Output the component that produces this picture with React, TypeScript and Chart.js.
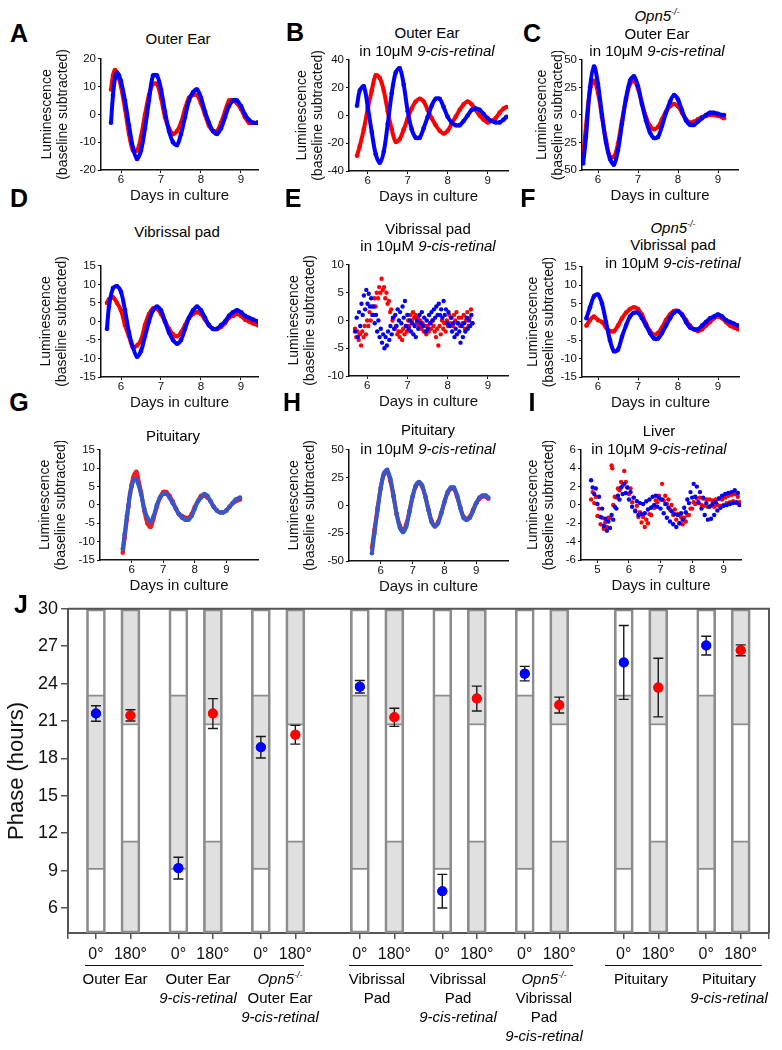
import React, { useEffect, useRef } from 'react';
import { Chart, registerables } from 'chart.js';

Chart.register(...registerables);
const FONT = "'Liberation Sans', Arial, Helvetica, sans-serif";
Chart.defaults.font.family = FONT;
Chart.defaults.color = '#111';

// ---------------- Panel A: Outer Ear ----------------
const aDays = [5.75,5.8,5.85,5.9,5.95,6.0,6.1,6.2,6.3,6.4,6.5,6.6,6.7,6.8,6.9,7.0,7.1,7.2,7.3,7.4,7.5,7.6,7.7,7.8,7.9,8.0,8.1,8.2,8.3,8.4,8.5,8.6,8.7,8.8,8.9,9.0,9.1,9.2,9.3,9.4,9.45];
const aBlue = [-3,7,13,15,14,12,5,-4,-12,-16,-13,-5,5,14,14,9,1,-6,-10,-11,-7,-1,5,8,9,6,1,-3,-6,-7,-5,-1,3,5,5,3,0,-2,-3,-3,-3];
const aRed = [9,14,16,15,13,10,2,-7,-13,-13,-8,0,7,11,11,6,-1,-5,-7,-6,-3,2,6,7,7,4,0,-4,-6,-6,-3,1,5,5,4,2,-1,-3,-3,-3,-3];
const aYTicks = [-20,-10,0,10,20];

// ---------------- Panel B: Outer Ear in 9-cis-retinal ----------------
const bDays = [5.73,5.8,5.9,6.0,6.1,6.2,6.3,6.4,6.5,6.6,6.7,6.8,6.9,7.0,7.1,7.2,7.3,7.4,7.5,7.6,7.7,7.8,7.9,8.0,8.1,8.2,8.3,8.4,8.5,8.6,8.7,8.8,8.9,9.0,9.1,9.2,9.3,9.4,9.47];
const bBlue = [7,18,21,6,-12,-28,-34,-26,-6,16,31,34,22,3,-10,-16,-16,-9,-1,7,12,12,6,-1,-5,-7,-7,-4,0,4,5,4,1,-2,-4,-5,-5,-3,-1];
const bRed = [-29,-22,-10,5,18,29,27,18,3,-10,-19,-17,-10,-2,5,10,12,10,4,-2,-7,-11,-13,-11,-6,-1,4,8,10,8,4,0,-3,-5,-4,-2,2,5,6];
const bYTicks = [-40,-20,0,20,40];

// ---------------- Panel C: Opn5-/- Outer Ear in 9-cis-retinal ----------------
const cDays = [5.63,5.7,5.8,5.9,6.0,6.1,6.2,6.3,6.4,6.5,6.6,6.7,6.8,6.9,7.0,7.1,7.2,7.3,7.4,7.5,7.6,7.7,7.8,7.9,8.0,8.1,8.2,8.3,8.4,8.5,8.6,8.7,8.8,8.9,9.0,9.1,9.15];
const cBlue = [-44,-20,25,44,28,0,-25,-40,-45,-32,-8,15,31,35,26,10,-5,-16,-21,-20,-10,2,12,18,14,4,-5,-9,-9,-6,-3,0,2,2,1,0,0];
const cRed = [-38,-10,22,31,20,-2,-23,-38,-38,-26,-5,14,28,31,24,10,-2,-10,-13,-11,-4,3,8,10,8,2,-4,-7,-6,-4,-2,-1,0,0,-1,-2,-3];
const cYTicks = [-50,-25,0,25,50];

// ---------------- Panel D: Vibrissal pad ----------------
const dDays = [5.65,5.7,5.8,5.9,6.0,6.1,6.2,6.3,6.4,6.5,6.6,6.7,6.8,6.9,7.0,7.1,7.2,7.3,7.4,7.5,7.6,7.7,7.8,7.9,8.0,8.1,8.2,8.3,8.4,8.5,8.6,8.7,8.8,8.9,9.0,9.1,9.2,9.3,9.42];
const dBlue = [-2,4,9,9.5,8,3,-3,-7,-9.5,-8,-4,0,3,4,3,0,-3,-5,-6,-5,-2,1,3,4,3,1,-1,-2,-2,-1,0,1.5,2.5,3,2.5,1.5,1,0.5,0];
const dRed = [5,6,6.5,5,3,-1,-4,-7,-6.5,-5,-1,2,3.5,3.5,2,0,-2,-3.5,-4,-3,-1,1,2,2.5,2,0.5,-1,-2,-2,-1.5,-0.5,1,1.5,2,1.5,0.5,0,-0.5,-1];
const dYTicks = [-15,-10,-5,0,5,10,15];

// ---------------- Panel E: Vibrissal pad in 9-cis-retinal (day, value) ----------------
const eBlue = [[5.70,-2],[5.74,0.5],[5.77,-3],[5.80,1.5],[5.83,-1],[5.86,3],[5.89,1],[5.92,4.5],[5.95,2],[5.98,5.5],[6.01,3],[6.04,4.8],[6.07,2.5],[6.10,4],[6.13,1],[6.16,2.5],[6.19,-0.5],[6.22,1],[6.25,-2],[6.28,0],[6.31,-3],[6.34,-1.5],[6.37,-4],[6.40,-2.5],[6.43,-5],[6.46,-3],[6.49,-4.5],[6.52,-2],[6.55,-3.5],[6.58,-1],[6.61,-2.5],[6.64,0.5],[6.67,-1.5],[6.70,1],[6.73,-1],[6.76,2],[6.79,0],[6.82,1.5],[6.85,-0.5],[6.88,2.5],[6.91,0.5],[6.94,3.5],[6.97,-1],[7.00,1],[7.03,-1.5],[7.06,0],[7.09,-2],[7.12,-0.5],[7.15,-2.5],[7.18,-1],[7.21,-3],[7.24,0],[7.27,-1.5],[7.30,1],[7.33,-0.5],[7.36,1.5],[7.39,-1],[7.42,0.5],[7.45,-2],[7.48,0],[7.51,-1.5],[7.54,1],[7.57,-0.5],[7.60,1.5],[7.63,0],[7.66,2],[7.69,0.5],[7.72,2.5],[7.75,1],[7.78,3],[7.81,1],[7.84,2],[7.87,0.5],[7.90,3.5],[7.93,1],[7.96,2],[7.99,-0.5],[8.02,1.5],[8.05,-1],[8.08,0.5],[8.11,-2],[8.14,-0.5],[8.17,-3],[8.20,-1.5],[8.23,-2.5],[8.26,-0.5],[8.29,-2],[8.32,-4],[8.35,-1],[8.38,-3],[8.41,-0.5],[8.44,-2],[8.47,0.5],[8.50,-1.5],[8.53,0],[8.56,-1],[8.59,1],[8.62,-0.5]];
const eRed = [[5.70,-1.5],[5.73,-3],[5.76,-2],[5.79,-3.5],[5.82,-2.5],[5.85,-4.5],[5.88,-2],[5.91,-3],[5.94,-1],[5.97,-2.5],[6.00,0],[6.03,-1],[6.06,1.5],[6.09,0],[6.12,2.5],[6.15,1],[6.18,4],[6.21,2.5],[6.24,5],[6.27,4],[6.30,6],[6.33,5],[6.36,7.5],[6.39,5.5],[6.42,6],[6.45,4],[6.48,5],[6.51,3],[6.54,3.5],[6.57,1.5],[6.60,2],[6.63,0],[6.66,0.5],[6.69,-1.5],[6.72,-1],[6.75,-2.5],[6.78,-2],[6.81,-3],[6.84,-2],[6.87,-3.5],[6.90,-1.5],[6.93,-2.5],[6.96,-1],[6.99,-2],[7.02,0],[7.05,-1],[7.08,1],[7.11,0],[7.14,1.5],[7.17,0.5],[7.20,1],[7.23,-0.5],[7.26,0.5],[7.29,-1],[7.32,0],[7.35,-1.5],[7.38,-0.5],[7.41,-2],[7.44,-1],[7.47,-2.5],[7.50,-1],[7.53,-2],[7.56,-0.5],[7.59,-1.5],[7.62,0],[7.65,-1],[7.68,-2],[7.71,-3],[7.74,-1.5],[7.77,-4.5],[7.80,-1],[7.83,-2.5],[7.86,0],[7.89,-1.5],[7.92,-0.5],[7.95,-2],[7.98,0],[8.01,-1],[8.04,1],[8.07,-0.5],[8.10,0.5],[8.13,-1],[8.16,1],[8.19,0],[8.22,1.5],[8.25,-0.5],[8.28,0.5],[8.31,-1],[8.34,0.5],[8.37,-0.5],[8.40,1],[8.43,-1.5],[8.46,0],[8.49,1.5],[8.52,-1],[8.55,0.5],[8.58,2],[8.61,-0.5]];
const eYTicks = [-10,-5,0,5,10];

// ---------------- Panel F: Opn5-/- Vibrissal pad in 9-cis-retinal ----------------
const fDays = [5.71,5.8,5.9,6.0,6.1,6.2,6.3,6.4,6.5,6.6,6.7,6.8,6.9,7.0,7.1,7.2,7.3,7.4,7.5,7.6,7.7,7.8,7.9,8.0,8.1,8.2,8.3,8.4,8.5,8.6,8.7,8.8,8.9,9.0,9.1,9.2,9.3,9.4,9.5];
const fBlue = [1,4,7,7.5,5,0,-5,-8,-7.5,-4,-1,1.5,2.5,2.5,1,-1,-3,-4.5,-4.5,-3,-1,1,2.5,3,2,0,-1.5,-2,-2,-1,0,1,1.5,2,1.5,0.5,0,-0.5,-1];
const fRed = [-1,0.5,1.5,0.5,0,-1.5,-2.5,-2.5,-1,1,2.5,3.5,4,3.5,2,-0.5,-2.5,-3.5,-3,-1.5,0.5,2,3,3,2,0.5,-1,-2,-2.5,-2,-1,0,1,1.5,1,0,-1,-1.5,-2];
const fYTicks = [-15,-10,-5,0,5,10,15];

// ---------------- Panel G: Pituitary ----------------
const gDays = [5.72,5.78,5.85,5.9,5.95,6.0,6.05,6.1,6.15,6.2,6.3,6.4,6.5,6.6,6.7,6.8,6.9,7.0,7.1,7.2,7.3,7.4,7.5,7.6,7.7,7.8,7.9,8.0,8.1,8.2,8.3,8.4,8.5,8.6,8.7,8.8,8.9,9.0,9.1,9.2,9.3,9.43];
const gBlue = [-12,-8,-3,0,3,5,6.5,7,7,6,3,-1,-3.5,-4.5,-3,0,2,3,3,2,0.5,-1,-2.5,-3.5,-4,-4,-3,-1,1,2,3,2.5,1,-0.5,-1.5,-2,-2,-1.5,-0.5,0.5,1.5,2];
const gRed = [-13,-9,-4,-0.5,3,5.5,7.5,8.5,9,7.5,3.5,-1.5,-5,-6,-3.5,-0.5,2,3.5,3.5,2.5,1,-1,-2.5,-3,-3.5,-3.5,-2.5,-0.5,1,2.5,2.5,2,1,-0.5,-1.5,-2,-2,-1.5,-0.5,0.5,1,1.5];
const gYTicks = [-15,-10,-5,0,5,10,15];

// ---------------- Panel H: Pituitary in 9-cis-retinal ----------------
const hDays = [5.72,5.8,5.9,6.0,6.1,6.2,6.3,6.4,6.5,6.6,6.7,6.8,6.9,7.0,7.1,7.2,7.3,7.4,7.5,7.6,7.7,7.8,7.9,8.0,8.1,8.2,8.3,8.4,8.5,8.6,8.7,8.8,8.9,9.0,9.1,9.2,9.3,9.38];
const hBlue = [-43,-25,-4,16,29,32,24,9,-8,-20,-24,-19,-6,8,18,21,18,8,-4,-15,-19,-16,-7,3,12,16,16,9,-2,-11,-13,-11,-5,2,7,9,9,7];
const hRed = [-38,-22,-2,16,28,30,22,8,-8,-18,-22,-17,-5,8,17,20,17,8,-4,-14,-18,-15,-7,3,11,15,15,8,-2,-10,-12,-10,-4,2,6,8,8,6];
const hYTicks = [-50,-25,0,25,50];

// ---------------- Panel I: Liver in 9-cis-retinal (day, value) ----------------
const iBlue = [[4.80,2.7],[4.85,1.9],[4.90,1.2],[4.95,1.8],[5.00,0.1],[5.05,0.9],[5.10,-1.3],[5.15,-0.4],[5.20,-2.3],[5.25,-1.5],[5.30,-2.8],[5.35,-1.8],[5.40,-2.5],[5.45,-1.1],[5.50,-1.6],[5.55,-0.2],[5.60,-0.4],[5.65,1.0],[5.70,0.6],[5.75,1.9],[5.80,1.2],[5.85,2.3],[5.90,1.3],[5.95,1.9],[6.00,0.6],[6.05,1.4],[6.10,-0.2],[6.15,0.8],[6.20,-0.7],[6.25,0.4],[6.30,-1.1],[6.35,0.2],[6.40,-1.0],[6.45,0.1],[6.50,-0.9],[6.55,0.4],[6.60,-0.5],[6.65,0.6],[6.70,-0.3],[6.75,0.9],[6.80,0.0],[6.85,1.0],[6.90,-0.2],[6.95,0.8],[7.00,-0.4],[7.05,0.6],[7.10,-0.9],[7.15,0.1],[7.20,-1.4],[7.25,-0.3],[7.30,-1.8],[7.35,-0.7],[7.40,-2.1],[7.45,-1.0],[7.50,-2.4],[7.55,-1.1],[7.60,-2.0],[7.65,-0.9],[7.70,-1.6],[7.75,-0.3],[7.80,-0.8],[7.85,0.6],[7.90,0.2],[7.95,1.4],[8.00,0.8],[8.05,2.3],[8.10,0.9],[8.15,2.0],[8.20,0.3],[8.25,1.4],[8.30,-0.4],[8.35,0.8],[8.40,-1.1],[8.45,0.2],[8.50,-1.6],[8.55,-0.2],[8.60,-1.5],[8.65,0.1],[8.70,-1.1],[8.75,0.3],[8.80,-0.6],[8.85,0.7],[8.90,-0.3],[8.95,1.0],[9.00,-0.1],[9.05,1.2],[9.10,0.0],[9.15,1.3],[9.20,0.1],[9.25,1.4],[9.30,0.2],[9.35,1.6],[9.40,0.3],[9.45,1.3],[9.50,0.0]];
const iRed = [[4.80,0.6],[4.85,1.4],[4.90,0.2],[4.95,0.9],[5.00,-1.2],[5.05,-0.4],[5.10,-2.1],[5.15,-1.4],[5.20,-2.6],[5.25,-1.9],[5.30,-2.4],[5.35,-1.4],[5.40,-1.4],[5.45,4.3],[5.47,4.0],[5.50,0.0],[5.55,0.9],[5.60,0.8],[5.65,1.8],[5.70,1.6],[5.75,2.5],[5.80,2.1],[5.85,3.7],[5.90,2.5],[5.95,1.9],[6.00,1.2],[6.05,1.8],[6.10,0.3],[6.15,0.8],[6.20,-0.6],[6.25,-0.1],[6.30,-1.3],[6.35,-0.8],[6.40,-1.9],[6.45,-1.3],[6.50,-2.4],[6.55,-1.6],[6.60,-2.0],[6.65,-1.0],[6.70,-1.1],[6.75,-0.2],[6.80,-0.3],[6.85,0.5],[6.90,0.3],[6.95,1.0],[7.00,0.6],[7.05,2.3],[7.10,0.5],[7.15,1.0],[7.20,0.1],[7.25,0.6],[7.30,-0.5],[7.35,0.0],[7.40,-1.1],[7.45,-0.5],[7.50,-1.6],[7.55,-1.0],[7.60,-2.0],[7.65,-1.3],[7.70,-2.1],[7.75,-1.4],[7.80,-1.8],[7.85,-1.1],[7.90,-1.1],[7.95,-0.4],[8.00,-0.4],[8.05,0.3],[8.10,0.1],[8.15,0.7],[8.20,0.2],[8.25,0.8],[8.30,0.0],[8.35,0.7],[8.40,-0.1],[8.45,0.6],[8.50,-0.2],[8.55,0.6],[8.60,-0.1],[8.65,0.5],[8.70,-0.2],[8.75,0.6],[8.80,0.0],[8.85,0.7],[8.90,-0.1],[8.95,0.6],[9.00,0.0],[9.05,0.8],[9.10,0.2],[9.15,1.0],[9.20,0.3],[9.25,1.1],[9.30,0.4],[9.35,1.2],[9.40,0.2],[9.45,0.9],[9.50,0.3]];
const iYTicks = [-6,-4,-2,0,2,4,6];

const dayTicks = [6,7,8,9];
const dayTicksI = [5,6,7,8,9];

// ---------------- Panel J: phase ----------------
const jGroupLabels = ['Outer Ear','Outer Ear 9-cis-retinal','Opn5-/- Outer Ear 9-cis-retinal','Vibrissal Pad','Vibrissal Pad 9-cis-retinal','Opn5-/- Vibrissal Pad 9-cis-retinal','Pituitary','Pituitary 9-cis-retinal'];
const jTickLabels = ['0°','180°','0°','180°','0°','180°','0°','180°','0°','180°','0°','180°','0°','180°','0°','180°'];
const jBlue = [21.6, 9.2, 18.9, 23.75, 7.35, 24.8, 25.7, 27.05];
const jBlueErr = [0.62, 0.87, 0.86, 0.5, 1.35, 0.58, 2.96, 0.75];
const jRed = [21.45, 21.6, 19.9, 21.3, 22.8, 22.28, 23.68, 26.67];
const jRedErr = [0.45, 1.2, 0.75, 0.73, 1.0, 0.64, 2.35, 0.44];
const jDark0 = [9.2, 23.1];
const jLight180 = [11.4, 20.8];
const jYTicks = [6, 9, 12, 15, 18, 21, 24, 27, 30];
const J_MIN = 4;
const J_MAX = 30;

// ---------------- helpers ----------------
type Pt = { x: number; y: number };
const zip = (xs: number[], ys: number[]): Pt[] => xs.map((x, i) => ({ x, y: ys[i] }));
const fromPairs = (p: number[][]): Pt[] => p.map(([x, y]) => ({ x, y }));

const BLUE = '#0000ff';
const RED = '#ff0000';
const BLUE2 = '#3757c9';
const RED2 = '#ee1f24';

type Spec = {
  id: string;
  area: [number, number, number, number];
  yW: number;
  xMin: number;
  xMax: number;
  xTicks: number[];
  yMin: number;
  yMax: number;
  yTicks: number[];
  series: { pts: Pt[]; color: string }[];
  noisy: boolean;
};

const specs: Spec[] = [
  { id: 'A', area: [101, 58, 258, 170], yW: 63, xMin: 5.5, xMax: 9.425, xTicks: dayTicks, yMin: -20, yMax: 20, yTicks: aYTicks, noisy: false,
    series: [{ pts: zip(aDays, aBlue), color: BLUE }, { pts: zip(aDays, aRed), color: RED }] },
  { id: 'B', area: [349, 59, 508, 171], yW: 56, xMin: 5.53, xMax: 9.51, xTicks: dayTicks, yMin: -40, yMax: 40, yTicks: bYTicks, noisy: false,
    series: [{ pts: zip(bDays, bBlue), color: BLUE }, { pts: zip(bDays, bRed), color: RED }] },
  { id: 'C', area: [582, 59, 738, 170], yW: 49, xMin: 5.6, xMax: 9.5, xTicks: dayTicks, yMin: -50, yMax: 50, yTicks: cYTicks, noisy: false,
    series: [{ pts: zip(cDays, cBlue), color: BLUE }, { pts: zip(cDays, cRed), color: RED }] },
  { id: 'D', area: [101, 265, 258, 377], yW: 64, xMin: 5.5, xMax: 9.425, xTicks: dayTicks, yMin: -15, yMax: 15, yTicks: dYTicks, noisy: false,
    series: [{ pts: zip(dDays, dBlue), color: BLUE }, { pts: zip(dDays, dRed), color: RED }] },
  { id: 'E', area: [349, 264, 508, 376], yW: 64, xMin: 5.55, xMax: 9.5, xTicks: dayTicks, yMin: -10, yMax: 10, yTicks: eYTicks, noisy: true,
    series: [{ pts: fromPairs(eBlue), color: BLUE }, { pts: fromPairs(eRed), color: RED }] },
  { id: 'F', area: [582, 266, 739, 377], yW: 58, xMin: 5.6, xMax: 9.525, xTicks: dayTicks, yMin: -15, yMax: 15, yTicks: fYTicks, noisy: false,
    series: [{ pts: zip(fDays, fBlue), color: BLUE }, { pts: zip(fDays, fRed), color: RED }] },
  { id: 'G', area: [100, 449, 258, 560], yW: 64, xMin: 5.0, xMax: 10.0, xTicks: dayTicks, yMin: -15, yMax: 15, yTicks: gYTicks, noisy: false,
    series: [{ pts: zip(gDays, gBlue), color: BLUE2 }, { pts: zip(gDays, gRed), color: RED2 }] },
  { id: 'H', area: [349, 449, 508, 561], yW: 64, xMin: 5.0, xMax: 10.0, xTicks: dayTicks, yMin: -50, yMax: 50, yTicks: hYTicks, noisy: false,
    series: [{ pts: zip(hDays, hBlue), color: BLUE2 }, { pts: zip(hDays, hRed), color: RED2 }] },
  { id: 'I', area: [581, 449, 741, 560], yW: 57, xMin: 4.48, xMax: 9.55, xTicks: dayTicksI, yMin: -6, yMax: 6, yTicks: iYTicks, noisy: true,
    series: [{ pts: fromPairs(iBlue), color: BLUE }, { pts: fromPairs(iRed), color: RED }] },
];

function SmallChart({ spec }: { spec: Spec }) {
  const ref = useRef<HTMLCanvasElement>(null);
  const [L, T, R, B] = spec.area;
  const PAD_TOP = 8, PAD_RIGHT = 6, X_H = 34;
  const left = L - spec.yW;
  const top = T - PAD_TOP;
  const width = R - left + PAD_RIGHT;
  const height = PAD_TOP + (B - T) + X_H;
  useEffect(() => {
    const chart = new Chart(ref.current as HTMLCanvasElement, {
      type: 'scatter',
      data: {
        datasets: spec.series.map((s) => ({
          data: s.pts,
          showLine: !spec.noisy,
          borderColor: s.color,
          backgroundColor: s.color,
          borderWidth: spec.noisy ? 0 : 4,
          pointRadius: spec.noisy ? 2.2 : 2.3,
          pointBorderWidth: 0,
          pointHoverRadius: 0,
          tension: 0.35,
        })),
      },
      options: {
        animation: false,
        responsive: false,
        devicePixelRatio: 1,
        events: [],
        layout: { padding: { left: 0, top: PAD_TOP, right: PAD_RIGHT, bottom: 0 } },
        plugins: { legend: { display: false }, tooltip: { enabled: false } },
        scales: {
          x: {
            type: 'linear',
            min: spec.xMin,
            max: spec.xMax,
            afterBuildTicks: (s: any) => { s.ticks = spec.xTicks.map((v) => ({ value: v })); },
            afterFit: (s: any) => { s.height = X_H; },
            border: { display: true, color: '#111', width: 1.5 },
            grid: { display: true, drawOnChartArea: false, tickLength: 3, color: '#111', lineWidth: 1 },
            ticks: { font: { size: 11.5 }, padding: 0, color: '#111', maxRotation: 0, autoSkip: false },
            title: { display: true, text: 'Days in culture', font: { size: 15, lineHeight: '16px' }, padding: 0, color: '#111' },
          },
          y: {
            type: 'linear',
            min: spec.yMin,
            max: spec.yMax,
            afterBuildTicks: (s: any) => { s.ticks = spec.yTicks.map((v) => ({ value: v })); },
            afterFit: (s: any) => { s.width = spec.yW; },
            border: { display: true, color: '#111', width: 1.5 },
            grid: { display: true, drawOnChartArea: false, tickLength: 3, color: '#111', lineWidth: 1 },
            ticks: { font: { size: 11.5 }, padding: 2, color: '#111', autoSkip: false },
            title: {
              display: true,
              text: ['Luminescence', '(baseline subtracted)'],
              font: { size: 14, lineHeight: '16px' },
              padding: { top: 1, bottom: 0 },
              color: '#111',
            },
          },
        },
      } as any,
    });
    return () => chart.destroy();
  }, []);
  return (
    <canvas ref={ref} width={width} height={height}
      style={{ position: 'absolute', left, top, width, height }} />
  );
}

// ---------------- phase chart ----------------
const J_PAIR = 1, J_GAP = 1.39, J_SUPER = 1.87, J_START = 0.81, J_XMAX = 20.32;
function jPositions(): number[] {
  const pos: number[] = [];
  let x = J_START;
  jGroupLabels.forEach((_, g) => {
    if (g > 0) x += (g === 3 || g === 6) ? J_SUPER : J_GAP;
    pos.push(x);
    pos.push(x + J_PAIR);
    x += J_PAIR;
  });
  return pos;
}

const errorBarPlugin = {
  id: 'errorBars',
  afterDatasetDraw(chart: any, args: any) {
    const ds = chart.data.datasets[args.index];
    if (!ds.errors) return;
    const ctx = chart.ctx;
    const xs = chart.scales.x, ys = chart.scales.y;
    ctx.save();
    ctx.strokeStyle = '#1a1a1a';
    ctx.lineWidth = 1.4;
    ds.data.forEach((p: Pt, i: number) => {
      const px = xs.getPixelForValue(p.x);
      const t = ys.getPixelForValue(p.y + ds.errors[i]);
      const b = ys.getPixelForValue(p.y - ds.errors[i]);
      ctx.beginPath();
      ctx.moveTo(px, t); ctx.lineTo(px, b);
      ctx.moveTo(px - 5, t); ctx.lineTo(px + 5, t);
      ctx.moveTo(px - 5, b); ctx.lineTo(px + 5, b);
      ctx.stroke();
    });
    const meta = chart.getDatasetMeta(args.index);
    meta.data.forEach((el: any) => {
      ctx.beginPath();
      ctx.fillStyle = ds.backgroundColor;
      ctx.arc(el.x, el.y, ds.pointRadius, 0, Math.PI * 2);
      ctx.fill();
    });
    ctx.restore();
  },
};

const framePlugin = {
  id: 'frame',
  afterDraw(chart: any) {
    const { ctx, chartArea } = chart;
    ctx.save();
    ctx.strokeStyle = '#555';
    ctx.lineWidth = 2;
    ctx.beginPath();
    ctx.moveTo(chartArea.left, chartArea.top);
    ctx.lineTo(chartArea.right, chartArea.top);
    ctx.lineTo(chartArea.right, chartArea.bottom);
    ctx.stroke();
    ctx.restore();
  },
};

function PhaseChart() {
  const ref = useRef<HTMLCanvasElement>(null);
  const left = 0, top = 595, width = 777, height = 378;
  useEffect(() => {
    const pos = jPositions();
    const zeroX = pos.filter((_, i) => i % 2 === 0);
    const oneX = pos.filter((_, i) => i % 2 === 1);
    const GREY = '#e0e0e0';
    const EDGE = '#8c8c8c';
    // fill segment; optional top edge marks the boundary with the next segment
    const seg = (xs: number[], lo: number, hi: number, color: string, topEdge: boolean) => ({
      type: 'bar',
      data: xs.map((x) => ({ x, y: [lo, hi] })),
      backgroundColor: color,
      borderColor: EDGE,
      borderWidth: { top: topEdge ? 2 : 0, bottom: 0, left: 0, right: 0 },
      borderSkipped: false,
      barThickness: 19,
      grouped: false,
      order: 3,
    });
    const outline = (xs: number[]) => ({
      type: 'bar',
      data: xs.map((x) => ({ x, y: [J_MIN, J_MAX] })),
      backgroundColor: 'rgba(0,0,0,0)',
      borderColor: EDGE,
      borderWidth: 2,
      borderSkipped: false,
      barThickness: 19,
      grouped: false,
      order: 2,
    });
    const tickVals = [0, ...pos, J_XMAX];
    const tickText = ['', ...jTickLabels, ''];
    const chart = new Chart(ref.current as HTMLCanvasElement, {
      type: 'bar',
      data: {
        datasets: [
          seg(zeroX, J_MIN, jDark0[0], '#ffffff', true),
          seg(zeroX, jDark0[0], jDark0[1], GREY, true),
          seg(zeroX, jDark0[1], J_MAX, '#ffffff', false),
          seg(oneX, J_MIN, jLight180[0], GREY, true),
          seg(oneX, jLight180[0], jLight180[1], '#ffffff', true),
          seg(oneX, jLight180[1], J_MAX, GREY, false),
          outline(zeroX),
          outline(oneX),
          { type: 'scatter', data: zeroX.map((x, i) => ({ x, y: jBlue[i] })), backgroundColor: '#0000ff', borderWidth: 0, pointRadius: 5, pointHoverRadius: 5, order: 1, errors: jBlueErr },
          { type: 'scatter', data: oneX.map((x, i) => ({ x, y: jRed[i] })), backgroundColor: '#ff0000', borderWidth: 0, pointRadius: 5, pointHoverRadius: 5, order: 1, errors: jRedErr },
        ],
      } as any,
      options: {
        animation: false,
        responsive: false,
        devicePixelRatio: 1,
        events: [],
        layout: { padding: { left: 0, top: 12, right: 8, bottom: 0 } },
        plugins: { legend: { display: false }, tooltip: { enabled: false } },
        scales: {
          x: {
            type: 'linear',
            min: 0,
            max: J_XMAX,
            offset: false,
            afterBuildTicks: (s: any) => { s.ticks = tickVals.map((v) => ({ value: v })); },
            afterFit: (s: any) => { s.height = 40; },
            border: { display: true, color: '#555', width: 2 },
            grid: { display: true, offset: false, drawOnChartArea: false, tickLength: 6, color: '#555', lineWidth: 1.5 },
            ticks: { font: { size: 16 }, padding: 6, color: '#111', maxRotation: 0, autoSkip: false,
              callback: (_v: any, i: number) => tickText[i] },
          },
          y: {
            type: 'linear',
            min: J_MIN,
            max: J_MAX,
            afterBuildTicks: (s: any) => { s.ticks = jYTicks.map((v) => ({ value: v })); },
            afterFit: (s: any) => { s.width = 68; },
            border: { display: true, color: '#555', width: 2 },
            grid: { display: true, drawOnChartArea: false, tickLength: 7, color: '#555', lineWidth: 1.5 },
            ticks: { font: { size: 18 }, padding: 3, color: '#111', autoSkip: false },
            title: { display: true, text: 'Phase (hours)', font: { size: 22, lineHeight: '26px' }, padding: { top: 4, bottom: 0 }, color: '#111' },
          },
        },
      } as any,
      plugins: [errorBarPlugin, framePlugin],
    });
    return () => chart.destroy();
  }, []);
  return (
    <canvas ref={ref} width={width} height={height}
      style={{ position: 'absolute', left, top, width, height }} />
  );
}

// ---------------- text helpers ----------------
function Txt({ x, y, size = 15, bold = false, italic = false, children }: any) {
  return (
    <div style={{
      position: 'absolute', left: x, top: y, transform: 'translate(-50%, -50%)',
      fontSize: size, fontWeight: bold ? 700 : 400, fontStyle: italic ? 'italic' : 'normal',
      whiteSpace: 'nowrap', lineHeight: 1, color: '#000', fontFamily: FONT,
    }}>{children}</div>
  );
}
const Opn5 = () => (
  <i>Opn5<span style={{ fontSize: '0.6em', position: 'relative', top: '-0.7em' }}>-/-</span></i>
);
const Retinal = () => (<>in 10μM <i>9-cis-retinal</i></>);

export default function App() {
  return (
    <div style={{ position: 'absolute', left: 0, top: 0, width: 782, height: 1050, background: '#fff', overflow: 'hidden', fontFamily: FONT }}>
      {specs.map((s) => <SmallChart key={s.id} spec={s} />)}
      <PhaseChart />

      {/* panel letters */}
      <Txt x={19} y={33} size={25} bold>A</Txt>
      <Txt x={295} y={32} size={25} bold>B</Txt>
      <Txt x={532} y={33} size={25} bold>C</Txt>
      <Txt x={19} y={198} size={25} bold>D</Txt>
      <Txt x={293} y={198} size={25} bold>E</Txt>
      <Txt x={528} y={198} size={25} bold>F</Txt>
      <Txt x={19} y={402} size={25} bold>G</Txt>
      <Txt x={292} y={402} size={25} bold>H</Txt>
      <Txt x={532} y={402} size={25} bold>I</Txt>
      <Txt x={21} y={604} size={25} bold>J</Txt>

      {/* panel titles */}
      <Txt x={178} y={38}>Outer Ear</Txt>
      <Txt x={427} y={32}>Outer Ear</Txt>
      <Txt x={427} y={50}><Retinal /></Txt>
      <Txt x={657} y={15}><Opn5 /></Txt>
      <Txt x={657} y={33}>Outer Ear</Txt>
      <Txt x={657} y={50}><Retinal /></Txt>
      <Txt x={177} y={231}>Vibrissal pad</Txt>
      <Txt x={428} y={228}>Vibrissal pad</Txt>
      <Txt x={428} y={245}><Retinal /></Txt>
      <Txt x={673} y={227}><Opn5 /></Txt>
      <Txt x={673} y={244}>Vibrissal pad</Txt>
      <Txt x={673} y={262}><Retinal /></Txt>
      <Txt x={173} y={435}>Pituitary</Txt>
      <Txt x={428} y={429}>Pituitary</Txt>
      <Txt x={428} y={448}><Retinal /></Txt>
      <Txt x={659} y={430}>Liver</Txt>
      <Txt x={659} y={448}><Retinal /></Txt>

      {/* J group underlines */}
      <div style={{ position: 'absolute', left: 85, top: 965, width: 219, height: 0, borderTop: '1.5px solid #111' }} />
      <div style={{ position: 'absolute', left: 349, top: 965, width: 224, height: 0, borderTop: '1.5px solid #111' }} />
      <div style={{ position: 'absolute', left: 605, top: 965, width: 157, height: 0, borderTop: '1.5px solid #111' }} />

      {/* J group labels */}
      <Txt x={115} y={978}>Outer Ear</Txt>
      <Txt x={198} y={978}>Outer Ear</Txt>
      <Txt x={198} y={997} italic>9-cis-retinal</Txt>
      <Txt x={280} y={978}><Opn5 /></Txt>
      <Txt x={280} y={997}>Outer Ear</Txt>
      <Txt x={280} y={1016} italic>9-cis-retinal</Txt>
      <Txt x={377} y={978}>Vibrissal</Txt>
      <Txt x={377} y={997}>Pad</Txt>
      <Txt x={458} y={978}>Vibrissal</Txt>
      <Txt x={458} y={997}>Pad</Txt>
      <Txt x={458} y={1016} italic>9-cis-retinal</Txt>
      <Txt x={544} y={978}><Opn5 /></Txt>
      <Txt x={544} y={997}>Vibrissal</Txt>
      <Txt x={544} y={1016}>Pad</Txt>
      <Txt x={544} y={1035} italic>9-cis-retinal</Txt>
      <Txt x={641} y={978}>Pituitary</Txt>
      <Txt x={729} y={978}>Pituitary</Txt>
      <Txt x={729} y={997} italic>9-cis-retinal</Txt>
    </div>
  );
}
